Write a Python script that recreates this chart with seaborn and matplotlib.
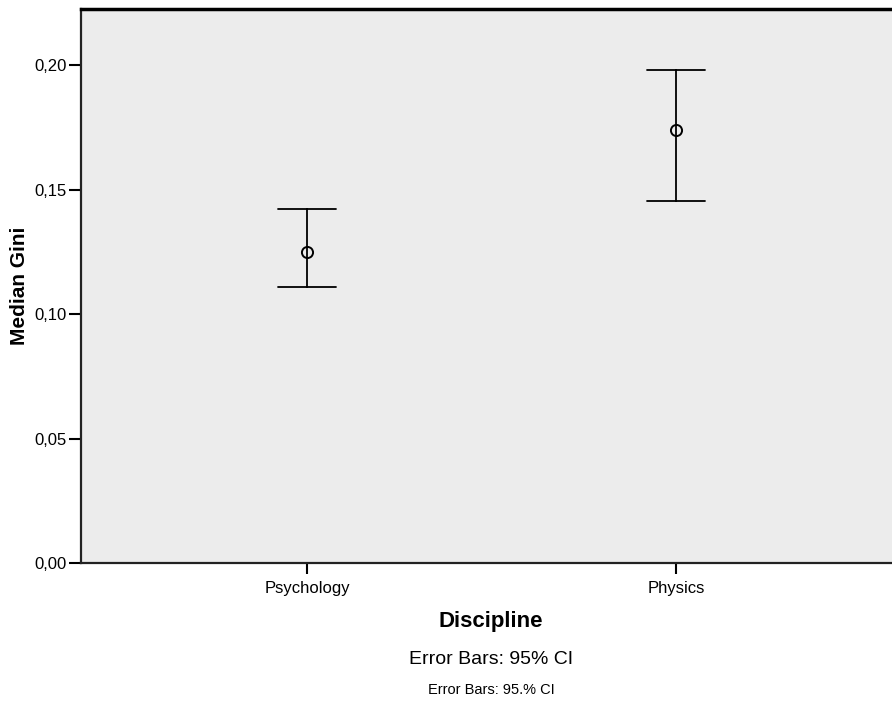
import numpy as np
import pandas as pd
import seaborn as sns
import matplotlib
matplotlib.use("Agg")
import matplotlib.pyplot as plt

categories = ["Psychology", "Physics"]
means = [0.1250, 0.1739]
ci_lower = [0.1107, 0.1455]
ci_upper = [0.1423, 0.1980]
yticks = [0.00, 0.05, 0.10, 0.15, 0.20]
ytick_labels = ["0,00", "0,05", "0,10", "0,15", "0,20"]

rows = []
for c, lo, m, hi in zip(categories, ci_lower, means, ci_upper):
    for v in (lo, m, hi):
        rows.append({"Discipline": c, "Median Gini": v})
df = pd.DataFrame(rows)

sns.set_style("white")
plt.rcParams["font.family"] = ["Liberation Sans", "DejaVu Sans"]
plt.rcParams["text.color"] = "black"
plt.rcParams["axes.labelcolor"] = "black"
plt.rcParams["xtick.color"] = "black"
plt.rcParams["ytick.color"] = "black"

fig = plt.figure(figsize=(8.92, 7.02), dpi=100)
ax = fig.add_axes([81/892, (702-563)/702, 1 - 81/892, (563-9)/702])
ax.set_facecolor("#ececec")

sns.pointplot(data=df, x="Discipline", y="Median Gini", order=categories,
              estimator="median", errorbar=lambda v: (v.min(), v.max()),
              linestyle="none", color="black", markers="o", capsize=0.155,
              err_kws={"linewidth": 1.3}, markerfacecolor="none",
              markeredgewidth=1.4, markersize=8, ax=ax)

ax.set_xlim(-0.6125, 1.5854)
ax.set_ylim(0, 0.2225)
ax.set_yticks(yticks)
ax.set_yticklabels(ytick_labels, fontsize=12)
ax.tick_params(axis="x", labelsize=12, length=8, width=1.5, color="black", pad=5, direction="out")
ax.tick_params(axis="y", length=9, width=1.5, color="black", pad=1, direction="out")
ax.tick_params(left=True, bottom=True)
for s in ("left", "bottom"):
    ax.spines[s].set_color("#222222")
    ax.spines[s].set_linewidth(1.6)
ax.spines["top"].set_color("black")
ax.spines["top"].set_linewidth(2.5)
ax.spines["right"].set_visible(False)

ax.set_xlabel("")
ax.set_ylabel("Median Gini", fontsize=15, fontweight="bold", labelpad=4)

cx = 491 / 892
fig.text(cx, 1 - 621/702, "Discipline", ha="center", va="center", fontsize=16, fontweight="bold")
fig.text(cx, 1 - 659/702, "Error Bars: 95% CI", ha="center", va="center", fontsize=14)
fig.text(cx, 1 - 690/702, "Error Bars: 95.% CI", ha="center", va="center", fontsize=10.5)

fig.savefig("out.png", dpi=100)
